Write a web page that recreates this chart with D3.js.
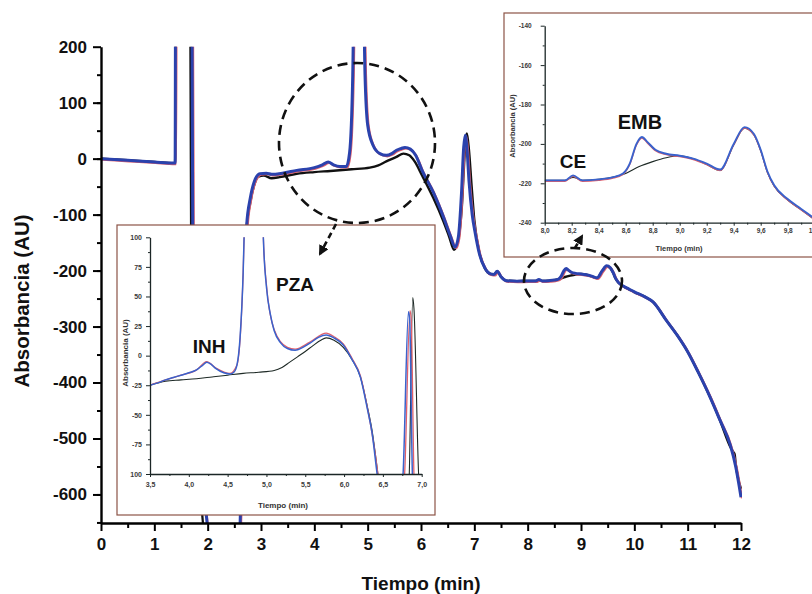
<!DOCTYPE html>
<html>
<head>
<meta charset="utf-8">
<script src="https://cdn.jsdelivr.net/npm/d3@7"></script>
<style>
  html, body { margin: 0; padding: 0; background: #fff; }
  svg { display: block; font-family: "Liberation Sans", Arial, sans-serif; font-weight: bold; }
</style>
</head>
<body>
<svg id="chart" width="812" height="594"></svg>
<script>
// main chromatogram, [time (min), absorbance (AU)]
var mainBlack = [[0,0],[0.5,-3],[1.0,-6],[1.37,-8],[1.39,-8],[1.40,400],[1.67,400],[1.69,-120],[2.0,-700],
  [2.58,-700],[2.73,-125],[2.8,-78],[2.87,-48],[2.95,-32],[3.05,-30],[3.2,-35],[3.35,-33],[3.67,-27],[4.0,-24],
  [4.3,-22],[4.7,-19],[5.04,-16],[5.2,-12],[5.35,-5],[5.54,3],[5.67,9],[5.78,6],[5.88,-5],[6.02,-30],[6.23,-70],
  [6.42,-112],[6.53,-140],[6.62,-163],[6.7,-145],[6.77,-80],[6.82,10],[6.86,45],[6.9,15],[6.95,-50],[7.0,-110],
  [7.1,-170],[7.2,-196],[7.3,-206],[7.37,-207],[7.43,-201],[7.5,-211],[7.6,-218],[7.8,-219],[8.0,-218.5],
  [8.15,-218.5],[8.21,-217],[8.28,-218.5],[8.4,-218],[8.5,-217],[8.6,-215],[8.7,-211.5],[8.8,-209],[8.9,-207],
  [9.0,-206],[9.1,-207.5],[9.2,-210.5],[9.3,-213.5],[9.4,-200.5],[9.48,-192],[9.55,-195.5],[9.6,-203.5],
  [9.65,-214.5],[9.7,-221.5],[9.8,-228.5],[9.9,-233.5],[10.0,-238.5],[10.2,-247],[10.35,-256],[10.6,-289],
  [10.8,-315],[11.0,-345],[11.2,-382],[11.42,-426],[11.6,-466],[11.8,-515],[11.86,-525],[11.88,-528],
  [11.9,-545],[12.0,-590]];

var mainBlue = [[0,0],[0.5,-3],[1.0,-6],[1.37,-8],[1.39,-8],[1.40,400],[1.70,400],[1.72,-120],[2.1,-700],
  [2.58,-700],[2.73,-120],[2.8,-70],[2.87,-42],[2.98,-27],[3.1,-26],[3.2,-28],[3.4,-26],[3.67,-21],[4.0,-16],
  [4.15,-11],[4.26,-6],[4.36,-11],[4.48,-14],[4.6,-14],[4.66,10],[4.72,150],[4.76,400],[4.9,400],[4.95,150],
  [5.0,60],[5.1,24],[5.23,9],[5.35,6],[5.45,9],[5.54,15],[5.62,18],[5.7,20],[5.8,17],[5.9,6],[6.02,-21],
  [6.23,-60],[6.42,-104],[6.55,-138],[6.64,-158],[6.7,-140],[6.76,-60],[6.8,20],[6.83,42],[6.86,20],[6.9,-40],
  [6.96,-100],[7.02,-135],[7.1,-172],[7.2,-196],[7.3,-206],[7.37,-207],[7.43,-201],[7.5,-211],[7.6,-218],
  [7.8,-219],[8.0,-218.5],[8.15,-218.5],[8.21,-216],[8.28,-218.5],[8.4,-218],[8.5,-217],[8.58,-215],
  [8.63,-210],[8.68,-200],[8.72,-196.5],[8.76,-199],[8.82,-203],[8.9,-205],[9.0,-206],[9.1,-207.5],[9.2,-210],
  [9.3,-213],[9.4,-200],[9.48,-191.5],[9.55,-195],[9.6,-203],[9.65,-214],[9.7,-221],[9.8,-228],[9.9,-233],
  [10.0,-238],[10.2,-247],[10.35,-256],[10.6,-289],[10.8,-315],[11.0,-345],[11.2,-382],[11.42,-426],
  [11.6,-466],[11.8,-512],[11.9,-550],[12.0,-605]];

// zoom 3.5 - 7.0 min
var zoomABlack = [[3.5,-25],[3.7,-21.5],[3.9,-20.5],[4.1,-19.5],[4.3,-18],[4.5,-16.5],[4.7,-15],[4.9,-14],
  [5.1,-12.5],[5.2,-10],[5.3,-5.5],[5.4,-1],[5.5,3.5],[5.6,8.5],[5.7,13],[5.77,15],[5.87,13],[5.99,7],
  [6.1,-3],[6.21,-18],[6.3,-43],[6.36,-63],[6.43,-97],[6.5,-135],[6.6,-170],[6.7,-170],[6.8,-150],[6.84,-100],
  [6.885,49],[6.9,40],[6.96,-100],[7.0,-140]];
var zoomARed = [[3.5,-25],[3.7,-20.5],[3.9,-16.5],[4.1,-12],[4.23,-5],[4.35,-10.5],[4.53,-15],[4.62,-8],
  [4.7,70],[4.72,120],[4.8,400],[4.92,400],[4.96,100],[5.0,60],[5.1,22],[5.27,7],[5.37,5.5],[5.56,11.5],
  [5.77,19],[5.87,16],[5.99,10],[6.1,-2],[6.21,-17],[6.3,-44],[6.43,-97],[6.5,-140],[6.6,-170],[6.7,-150],
  [6.77,-110],[6.78,-100],[6.85,38],[6.865,30],[6.9,-100],[6.92,-130]];
var zoomABlue = [[3.5,-25],[3.6,-23],[3.7,-20.5],[3.8,-18.5],[3.9,-16.5],[4.0,-14.5],[4.1,-12],[4.18,-8],
  [4.23,-5.5],[4.28,-7],[4.35,-11],[4.45,-14.5],[4.53,-15.5],[4.58,-14],[4.62,-8],[4.66,15],[4.7,70],
  [4.72,120],[4.8,400],[4.92,400],[4.96,100],[5.0,58],[5.05,35],[5.1,21],[5.18,11],[5.27,6],[5.37,4.5],
  [5.47,7],[5.56,10.5],[5.67,15.5],[5.77,17.5],[5.87,15],[5.99,9],[6.1,-3],[6.21,-18],[6.3,-45],[6.36,-65],
  [6.42,-97],[6.5,-140],[6.6,-170],[6.7,-150],[6.75,-110],[6.76,-100],[6.83,37],[6.845,30],[6.88,-100],
  [6.9,-130]];

// zoom 8.0 - 10.0 min
var zoomBBlack = [[8.0,-218.5],[8.15,-218.5],[8.21,-217],[8.28,-218.5],[8.4,-218],[8.5,-217],[8.6,-215],
  [8.7,-211.5],[8.8,-209],[8.9,-207],[9.0,-206],[9.1,-207.5],[9.2,-210.5],[9.3,-213.5],[9.4,-200.5],
  [9.48,-192],[9.55,-195.5],[9.6,-203.5],[9.65,-214.5],[9.7,-221.5],[9.8,-228.5],[9.9,-233.5],[10.0,-238.5]];
var zoomBRed = [[8.0,-219],[8.15,-219],[8.21,-216.5],[8.28,-219],[8.4,-218.5],[8.5,-217.5],[8.58,-215.5],
  [8.63,-210.5],[8.68,-200.5],[8.72,-197],[8.76,-199.5],[8.82,-203.5],[8.9,-205.5],[9.0,-206.5],[9.1,-208],
  [9.2,-210.5],[9.3,-213.5],[9.4,-200.5],[9.48,-192],[9.55,-195.5],[9.6,-203.5],[9.65,-214.5],[9.7,-221.5],
  [9.8,-228.5],[9.9,-233.5],[10.0,-238.5]];
var zoomBBlue = [[8.0,-218.5],[8.15,-218.5],[8.21,-216],[8.28,-218.5],[8.4,-218],[8.5,-217],[8.58,-215],
  [8.63,-210],[8.68,-200],[8.72,-196.5],[8.76,-199],[8.82,-203],[8.9,-205],[9.0,-206],[9.1,-207.5],[9.2,-210],
  [9.3,-213],[9.4,-200],[9.48,-191.5],[9.55,-195],[9.6,-203],[9.65,-214],[9.7,-221],[9.8,-228],[9.9,-233],
  [10.0,-238]];

// ticks
var mainXTicks = [0,1,2,3,4,5,6,7,8,9,10,11,12];
var mainYTicks = [-600,-500,-400,-300,-200,-100,0,100,200];
var zoomAXTicks = [3.5,4.0,4.5,5.0,5.5,6.0,6.5,7.0];
var zoomAXLabels = ["3,5","4,0","4,5","5,0","5,5","6,0","6,5","7,0"];
var zoomAYTicks = [-100,-75,-50,-25,0,25,50,75,100];
var zoomAYLabels = ["100","-75","-50","-25","0","25","50","75","100"];
var zoomBXTicks = [8.0,8.2,8.4,8.6,8.8,9.0,9.2,9.4,9.6,9.8,10.0];
var zoomBXLabels = ["8,0","8,2","8,4","8,6","8,8","9,0","9,2","9,4","9,6","9,8","10,0"];
var zoomBYTicks = [-240,-220,-200,-180,-160,-140];
var zoomBYLabels = ["-240","-220","-200","-180","-160","-140"];

var svg = d3.select("#chart");
var defs = svg.append("defs");

var BLUE = "#2b42ad", BLACK = "#111", RED = "#e0606c";

// ---------- main plot ----------
var x = d3.scaleLinear().domain([0, 12]).range([101, 741]);
var y = d3.scaleLinear().domain([-651, 200]).range([523, 46.7]);

defs.append("clipPath").attr("id", "clipMain")
  .append("rect").attr("x", 101).attr("y", 46.7).attr("width", 641).attr("height", 476.3);

var line = d3.line().x(d => x(d[0])).y(d => y(d[1])).curve(d3.curveMonotoneX);

var gMain = svg.append("g").attr("clip-path", "url(#clipMain)");
gMain.append("path").datum(mainBlack).attr("d", line)
  .attr("fill", "none").attr("stroke", BLACK).attr("stroke-width", 2.4);
// red sample practically coincides with blue; it only shows as a faint edge
gMain.append("path").datum(mainBlue).attr("d", line).attr("transform", "translate(1,1)")
  .attr("fill", "none").attr("stroke", RED).attr("stroke-width", 2.2);
gMain.append("path").datum(mainBlue).attr("d", line)
  .attr("fill", "none").attr("stroke", BLUE).attr("stroke-width", 3);

// minor ticks
svg.append("g").attr("transform", "translate(101,0)")
  .call(d3.axisLeft(y).tickValues(d3.range(-650, 200, 50)).tickSize(4).tickFormat("").tickSizeOuter(0))
  .call(g => g.select(".domain").remove())
  .call(g => g.selectAll("line").attr("stroke", "#000").attr("stroke-width", 2));
svg.append("g").attr("transform", "translate(0,523)")
  .call(d3.axisBottom(x).tickValues(d3.range(0.5, 12, 1)).tickSize(5).tickFormat("").tickSizeOuter(0))
  .call(g => g.select(".domain").remove())
  .call(g => g.selectAll("line").attr("stroke", "#000").attr("stroke-width", 2));

var yAxis = svg.append("g").attr("transform", "translate(101,0)")
  .call(d3.axisLeft(y).tickValues(mainYTicks).tickSize(8).tickPadding(6).tickSizeOuter(0)
    .tickFormat(d => String(d)));
var xAxis = svg.append("g").attr("transform", "translate(0,523)")
  .call(d3.axisBottom(x).tickValues(mainXTicks).tickSize(8).tickPadding(7).tickSizeOuter(0)
    .tickFormat(d => String(d)));
[yAxis, xAxis].forEach(function (g) {
  g.select(".domain").attr("stroke", "#000").attr("stroke-width", 2.4);
  g.selectAll("line").attr("stroke", "#000").attr("stroke-width", 2);
  g.selectAll("text").attr("font-size", 17).attr("font-weight", "bold")
    .attr("font-family", "Liberation Sans, Arial, sans-serif").attr("fill", "#111");
});

svg.append("text").attr("x", 421).attr("y", 590).attr("text-anchor", "middle")
  .attr("font-size", 19).attr("fill", "#111").text("Tiempo (min)");
svg.append("text").attr("transform", "translate(29,301) rotate(-90)").attr("text-anchor", "middle")
  .attr("font-size", 20.5).attr("fill", "#111").text("Absorbancia (AU)");

// ---------- inset helper ----------
function inset(opt) {
  var g = svg.append("g");
  g.append("rect").attr("x", opt.frame[0]).attr("y", opt.frame[1])
    .attr("width", opt.frame[2]).attr("height", opt.frame[3])
    .attr("fill", "#fff").attr("stroke", "#8c5446").attr("stroke-width", 1.2);

  var sx = d3.scaleLinear().domain(opt.xd).range(opt.xr);
  var sy = d3.scaleLinear().domain(opt.yd).range(opt.yr);
  var l = d3.line().x(d => sx(d[0])).y(d => sy(d[1])).curve(d3.curveMonotoneX);

  defs.append("clipPath").attr("id", opt.id)
    .append("rect").attr("x", opt.xr[0]).attr("y", opt.yr[1])
    .attr("width", opt.xr[1] - opt.xr[0]).attr("height", opt.yr[0] - opt.yr[1]);
  var gl = g.append("g").attr("clip-path", "url(#" + opt.id + ")");
  gl.append("path").datum(opt.black).attr("d", l).attr("fill", "none")
    .attr("stroke", "#1e2a26").attr("stroke-width", 1.1);
  gl.append("path").datum(opt.red).attr("d", l).attr("fill", "none")
    .attr("stroke", RED).attr("stroke-width", 1.3);
  gl.append("path").datum(opt.blue).attr("d", l).attr("fill", "none")
    .attr("stroke", "#3a62cc").attr("stroke-width", opt.blueW);

  var axC = "#1b2626";
  g.append("g").attr("transform", "translate(" + opt.xr[0] + ",0)")
    .call(d3.axisLeft(sy).tickValues(opt.yMinor).tickSize(2).tickFormat("").tickSizeOuter(0))
    .call(a => a.select(".domain").remove());
  g.append("g").attr("transform", "translate(0," + opt.yr[0] + ")")
    .call(d3.axisBottom(sx).tickValues(opt.xMinor).tickSize(2).tickFormat("").tickSizeOuter(0))
    .call(a => a.select(".domain").remove());
  var ay = g.append("g").attr("transform", "translate(" + opt.xr[0] + ",0)")
    .call(d3.axisLeft(sy).tickValues(opt.yTicks).tickSize(4).tickPadding(opt.yPad)
      .tickFormat((d, i) => opt.yLabels[i]).tickSizeOuter(0));
  var ax = g.append("g").attr("transform", "translate(0," + opt.yr[0] + ")")
    .call(d3.axisBottom(sx).tickValues(opt.xTicks).tickSize(3).tickPadding(opt.xPad)
      .tickFormat((d, i) => opt.xLabels[i]).tickSizeOuter(0));
  g.selectAll(".tick line").attr("stroke", axC).attr("stroke-width", 1);
  [ay, ax].forEach(function (a) {
    a.select(".domain").attr("stroke", axC).attr("stroke-width", 1.3);
    a.selectAll("text").attr("font-size", opt.fs).attr("font-weight", "bold")
      .attr("font-family", "Liberation Sans, Arial, sans-serif").attr("fill", "#3a3a3a");
  });

  g.append("text").attr("x", opt.xt[0]).attr("y", opt.xt[1]).attr("text-anchor", "middle")
    .attr("font-size", opt.ts).attr("fill", "#333").text("Tiempo (min)");
  g.append("text").attr("transform", "translate(" + opt.yt[0] + "," + opt.yt[1] + ") rotate(-90)")
    .attr("text-anchor", "middle").attr("font-size", opt.ts).attr("fill", "#333").text("Absorbancia (AU)");
  return { g: g, x: sx, y: sy };
}

var insA = inset({
  id: "clipA", frame: [117, 225, 318, 290],
  xd: [3.5, 7.0], xr: [150, 421.7], yd: [-100, 100], yr: [474, 237.3],
  black: zoomABlack, red: zoomARed, blue: zoomABlue, blueW: 1.5,
  xTicks: zoomAXTicks, xLabels: zoomAXLabels, yTicks: zoomAYTicks, yLabels: zoomAYLabels,
  xMinor: d3.range(3.75, 7, 0.5), yMinor: d3.range(-87.5, 100, 25),
  xPad: 5, yPad: 4, fs: 7, ts: 8,
  xt: [283, 508], yt: [128, 353]
});

var insB = inset({
  id: "clipB", frame: [504, 13, 330, 244],
  xd: [8.0, 10.0], xr: [544.7, 814.7], yd: [-240, -140], yr: [222.7, 25.7],
  black: zoomBBlack, red: zoomBRed, blue: zoomBBlue, blueW: 1.9,
  xTicks: zoomBXTicks, xLabels: zoomBXLabels, yTicks: zoomBYTicks, yLabels: zoomBYLabels,
  xMinor: d3.range(8.1, 10, 0.2), yMinor: d3.range(-230, -140, 20),
  xPad: 3, yPad: 9, fs: 6.5, ts: 7.5,
  xt: [679, 250.5], yt: [515, 126]
});

// peak labels
insA.g.append("text").attr("x", 295).attr("y", 291).attr("text-anchor", "middle")
  .attr("font-size", 19).attr("fill", "#111").text("PZA");
insA.g.append("text").attr("x", 209).attr("y", 353).attr("text-anchor", "middle")
  .attr("font-size", 19).attr("fill", "#111").text("INH");
insB.g.append("text").attr("x", 573).attr("y", 168).attr("text-anchor", "middle")
  .attr("font-size", 19).attr("fill", "#111").text("CE");
insB.g.append("text").attr("x", 640).attr("y", 128.5).attr("text-anchor", "middle")
  .attr("font-size", 20).attr("fill", "#111").text("EMB");

// ---------- dashed call-outs ----------
defs.append("marker").attr("id", "arrow").attr("viewBox", "0 0 10 10")
  .attr("refX", 8).attr("refY", 5).attr("markerWidth", 4).attr("markerHeight", 4)
  .attr("orient", "auto").attr("markerUnits", "strokeWidth")
  .append("path").attr("d", "M0,0 L10,5 L0,10 z").attr("fill", "#111");

var ann = svg.append("g").attr("fill", "none").attr("stroke", "#111")
  .attr("stroke-width", 2.6).attr("stroke-dasharray", "10,6");
ann.append("ellipse").attr("cx", 357).attr("cy", 143).attr("rx", 78).attr("ry", 80);
ann.append("ellipse").attr("cx", 573).attr("cy", 281).attr("rx", 49).attr("ry", 33);
ann.append("line").attr("x1", 336).attr("y1", 224).attr("x2", 320).attr("y2", 254)
  .attr("stroke-dasharray", "6,4").attr("marker-end", "url(#arrow)");
ann.append("line").attr("x1", 575).attr("y1", 248).attr("x2", 582).attr("y2", 236)
  .attr("stroke-dasharray", "5,3").attr("marker-end", "url(#arrow)");
</script>
</body>
</html>
